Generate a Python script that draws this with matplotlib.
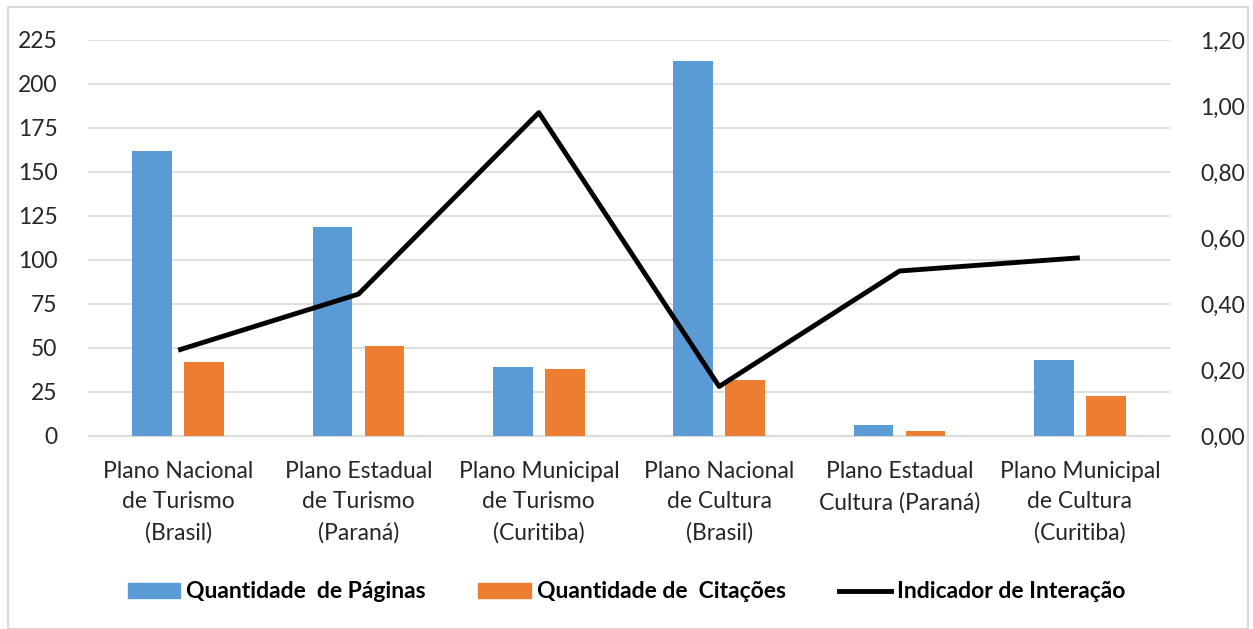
import numpy as np
import matplotlib
matplotlib.use("Agg")
import matplotlib.pyplot as plt
from matplotlib.ticker import FuncFormatter
from matplotlib.lines import Line2D
from matplotlib.patches import Patch, Rectangle

plt.rcParams['font.family'] = ['Lato', 'DejaVu Sans']

categories = [
    'Plano Nacional\nde Turismo\n(Brasil)',
    'Plano Estadual\nde Turismo\n(Paraná)',
    'Plano Municipal\nde Turismo\n(Curitiba)',
    'Plano Nacional\nde Cultura\n(Brasil)',
    'Plano Estadual\nCultura (Paraná)',
    'Plano Municipal\nde Cultura\n(Curitiba)',
]
paginas = [162, 119, 39, 213, 6, 43]
citacoes = [42, 51, 38, 32, 3, 23]
indicador = [0.26, 0.43, 0.98, 0.15, 0.50, 0.54]

blue = '#5B9BD5'
orange = '#ED7D31'

fig = plt.figure(figsize=(12.53, 6.29), dpi=100)
ax = fig.add_axes([88 / 1253, 1 - 436 / 629, (1170 - 88) / 1253, (436 - 40) / 629])
ax2 = ax.twinx()

x = np.arange(len(categories))
w = 0.22
ax.bar(x - 0.145, paginas, w, color=blue, zorder=2)
ax.bar(x + 0.145, citacoes, w, color=orange, zorder=2)
ax2.plot(x, indicador, color='black', lw=3.5, solid_capstyle='butt', zorder=3)

ax.set_xlim(-0.5, len(categories) - 0.5)
ax.set_ylim(0, 225)
ax.set_yticks(np.arange(0, 226, 25))
ax2.set_ylim(0, 1.2)
ax2.set_yticks(np.arange(0, 1.21, 0.2))
ax2.yaxis.set_major_formatter(FuncFormatter(lambda v, p: f'{v:.2f}'.replace('.', ',')))

ax.grid(axis='y', color='#D9D9D9', lw=1.2, zorder=0)
for a in (ax, ax2):
    for s in a.spines.values():
        s.set_visible(False)
    a.tick_params(length=0, labelsize=16.5, colors='#262626')
ax.spines['bottom'].set_visible(True)
ax.spines['bottom'].set_color('#D9D9D9')
ax.set_xticks(x)
ax.set_xticklabels(categories, fontsize=16.5, linespacing=1.55)
ax.tick_params(axis='x', pad=18)
ax.tick_params(axis='y', pad=22)
ax2.tick_params(axis='y', pad=22)

handles = [Patch(color=blue), Patch(color=orange), Line2D([], [], color='black', lw=3.5)]
labels = ['Quantidade  de Páginas', 'Quantidade de  Citações', 'Indicador de Interação']
fig.legend(handles, labels, loc='center', bbox_to_anchor=(0.5, 1 - 592 / 629), ncol=3,
           frameon=False, prop={'size': 16.5, 'weight': 'bold'}, handlelength=2.3,
           handleheight=0.6, columnspacing=2.3, handletextpad=0.25)

fig.patches.append(Rectangle((8 / 1253, 0), 1240 / 1253, 1 - 7 / 629, transform=fig.transFigure,
                             fill=False, edgecolor='#D9D9D9', lw=1.5))

fig.savefig('out.png', dpi=100)
